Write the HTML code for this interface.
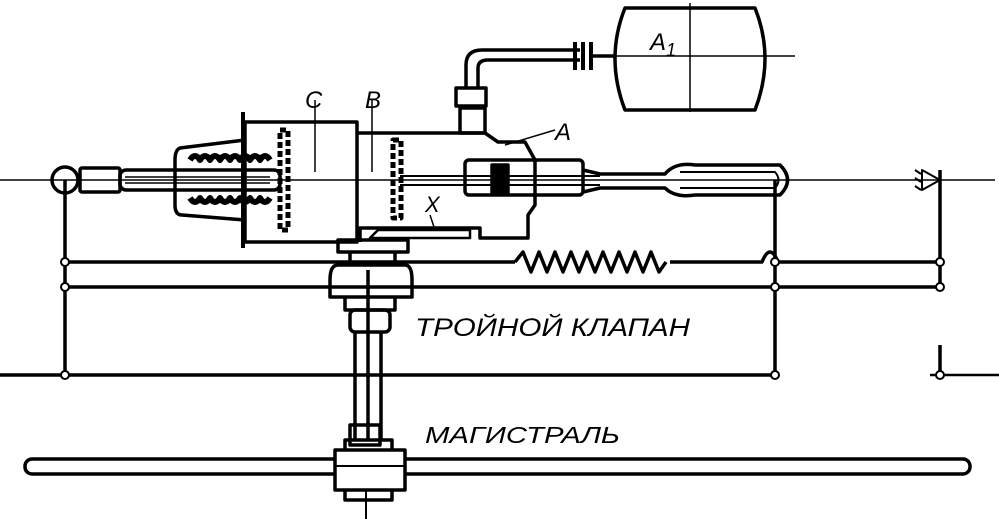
<!DOCTYPE html>
<html><head><meta charset="utf-8"><style>
html,body{margin:0;padding:0;background:#fff;width:999px;height:519px;overflow:hidden}
text{font-family:"Liberation Sans",sans-serif;font-style:italic;fill:#000}
</style></head><body>
<svg width="999" height="519" viewBox="0 0 999 519" xmlns="http://www.w3.org/2000/svg" fill="none" stroke="#000" stroke-width="3.5" stroke-linejoin="round">
<line x1="0" y1="180" x2="995" y2="180" stroke-width="1.5"/>
<line x1="65" y1="180" x2="65" y2="375"/>
<path d="M65 262 H515"/>
<path d="M515 262 l8 -10 l8 20 l8 -20 l8 20 l8 -20 l8 20 l8 -20 l8 20 l8 -20 l8 20 l8 -20 l8 20 l8 -20 l8 20 l8 -20 l8 20 l8 -20 l8 20 l7 -10"/>
<path d="M670 262 H762 q8 -20 16 0 H940"/>
<line x1="65" y1="287" x2="940" y2="287"/>
<line x1="0" y1="375" x2="775" y2="375"/>
<line x1="775" y1="180" x2="775" y2="375"/>
<line x1="940" y1="170" x2="940" y2="290"/>
<line x1="940" y1="345" x2="940" y2="375"/>
<line x1="930" y1="375" x2="999" y2="375" stroke-width="2.5"/>
<g fill="#fff" stroke-width="2">
<circle cx="65" cy="262" r="4"/><circle cx="65" cy="287" r="4"/><circle cx="65" cy="375" r="4"/>
<circle cx="775" cy="262" r="4"/><circle cx="775" cy="287" r="4"/><circle cx="775" cy="375" r="4"/>
<circle cx="940" cy="262" r="4"/><circle cx="940" cy="287" r="4"/><circle cx="940" cy="375" r="4"/>
</g>
<path d="M922 170 L940 180 L922 190 Z" stroke-width="2"/>
<path d="M915 170 l6 4 M915 178 l6 4 M915 186 l6 4" stroke-width="2"/>
<circle cx="65" cy="180" r="13"/>
<rect x="80" y="168" width="40" height="24" rx="2"/>
<path d="M245 140 L180 148 Q175 150 175 160 V205 Q175 215 182 215 L245 220"/>
<path d="M190 160 q5 -8 10 0 q5 -8 10 0 q5 -8 10 0 q5 -8 10 0 q5 -8 10 0 q5 -8 10 0 q5 -8 10 0 q5 -8 10 0" stroke-width="6"/>
<path d="M190 198 q5 8 10 0 q5 8 10 0 q5 8 10 0 q5 8 10 0 q5 8 10 0 q5 8 10 0 q5 8 10 0 q5 8 10 0" stroke-width="6"/>
<rect x="120" y="170" width="160" height="20" rx="6"/>
<line x1="125" y1="177" x2="270" y2="177" stroke-width="1.5"/>
<line x1="125" y1="183" x2="270" y2="183" stroke-width="1.5"/>
<rect x="245" y="122" width="112" height="120"/>
<line x1="243" y1="112" x2="243" y2="248" stroke-width="4"/>
<rect x="280" y="130" width="8" height="100" stroke-width="5" stroke-dasharray="6 3"/>
<line x1="315" y1="100" x2="315" y2="172" stroke-width="1.5"/>
<path d="M357 133 H485 L498 142 H525 L535 160 V205 L528 215 V238 H480 V228 H360 V242"/>
<rect x="393" y="140" width="8" height="78" stroke-width="5" stroke-dasharray="6 3"/>
<line x1="372" y1="100" x2="372" y2="172" stroke-width="1.5"/>
<path d="M370 238 H470 V230 H378 Z" stroke-width="2.5"/>
<rect x="465" y="160" width="118" height="35" rx="4"/>
<rect x="492" y="165" width="16" height="28" fill="#000"/>
<line x1="400" y1="176" x2="600" y2="176" stroke-width="2"/>
<line x1="400" y1="185" x2="600" y2="185" stroke-width="2"/>
<path d="M583 170 L600 174 H665 Q675 162 695 165 H780 Q795 180 780 195 H695 Q675 198 665 188 H600 L583 192" />
<path d="M680 172 H775 Q782 180 775 188 H680" stroke-width="2"/>
<rect x="460" y="108" width="25" height="25"/>
<rect x="456" y="88" width="30" height="18"/>
<path d="M466 88 V65 Q466 50 482 50 H580 M478 88 V68 Q478 60 488 60 H580"/>
<path d="M575 42 v28 M583 42 v28 M591 42 v28" stroke-width="4"/>
<line x1="591" y1="56" x2="615" y2="56"/>
<path d="M625 8 H755 Q775 58 755 110 H625 Q605 58 625 8 Z"/>
<line x1="605" y1="56" x2="795" y2="56" stroke-width="1.5"/>
<line x1="690" y1="3" x2="690" y2="112" stroke-width="1.5"/>
<rect x="338" y="240" width="70" height="12"/>
<path d="M350 252 V265 M395 252 V265"/>
<path d="M338 265 H405 Q412 265 412 280 V297 H330 V280 Q330 265 338 265 Z"/>
<path d="M345 298 V310 H395 V298"/>
<rect x="350" y="310" width="40" height="22" rx="5"/>
<path d="M355 332 V440 M368 270 V440 M381 332 V440"/>
<rect x="350" y="425" width="30" height="20"/>
<rect x="25" y="459" width="945" height="15" rx="7"/>
<path d="M335 450 H405 V490 H335 Z" fill="#fff"/>
<path d="M345 450 V440 H392 V450 M345 490 V500 H392 V490" />
<line x1="366" y1="490" x2="366" y2="519" stroke-width="2"/>
<line x1="335" y1="466" x2="405" y2="466" stroke-width="2"/>
<g stroke="none" font-size="24">
<text x="305" y="108">C</text>
<text x="365" y="108">B</text>
<text x="555" y="140">A</text>
<text x="425" y="212" font-size="22">X</text>
<text x="650" y="50">A<tspan font-size="18" dy="6">1</tspan></text>
<text x="415" y="336" font-size="25" textLength="275" lengthAdjust="spacingAndGlyphs">ТРОЙНОЙ КЛАПАН</text>
<text x="425" y="443" font-size="23" textLength="195" lengthAdjust="spacingAndGlyphs">МАГИСТРАЛЬ</text>
</g>
<path d="M505 145 L555 130" stroke-width="1.5"/>
<path d="M430 215 L435 230" stroke-width="1.5"/>
</svg>
</body></html>
